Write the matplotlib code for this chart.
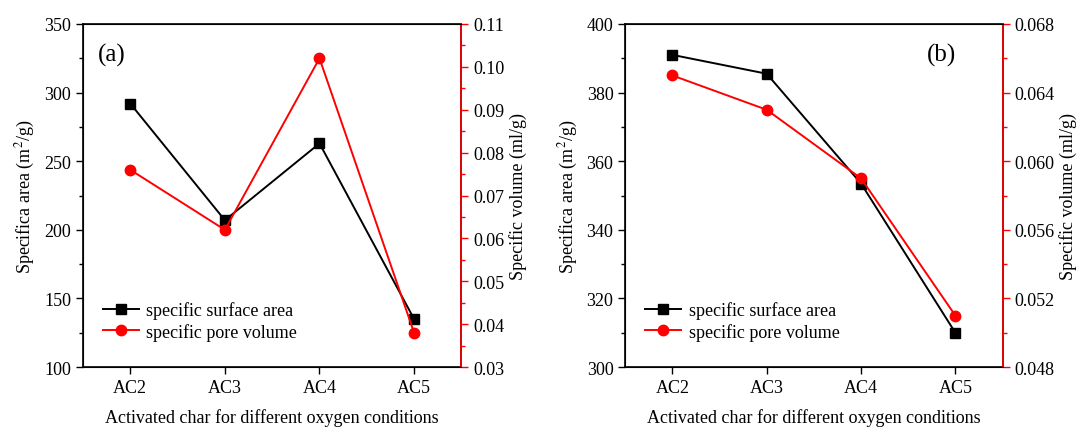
import matplotlib.pyplot as plt
from matplotlib.ticker import MultipleLocator, FormatStrFormatter

plt.rcParams['font.family'] = ['Liberation Serif', 'DejaVu Serif']
plt.rcParams['mathtext.fontset'] = 'stix'

samples = ['AC2', 'AC3', 'AC4', 'AC5']

# panel (a)
area_a = [292, 207, 263, 135]
volume_a = [0.076, 0.062, 0.102, 0.038]

# panel (b)
area_b = [391, 385.5, 353.5, 310]
volume_b = [0.065, 0.063, 0.059, 0.051]

fig = plt.figure(figsize=(10.78, 4.31), dpi=100)
fs = 13


def panel(rect, area, volume, ylim1, step1, ylim2, step2, fmt2, tag, tag_x):
    ax = fig.add_axes(rect)
    x = range(len(samples))
    l1, = ax.plot(x, area, color='black', marker='s', ms=7.5, lw=1.4,
                  label='specific surface area')
    ax.set_xlim(-0.5, 3.5)
    ax.set_ylim(*ylim1)
    ax.set_xticks(list(x))
    ax.set_xticklabels(samples)
    ax.yaxis.set_major_locator(MultipleLocator(step1))
    ax.yaxis.set_minor_locator(MultipleLocator(step1 / 2))
    ax.tick_params(direction='out', length=5, width=1, labelsize=fs)
    ax.tick_params(which='minor', direction='out', length=3, width=1)
    ax.tick_params(axis='x', which='minor', bottom=False)
    ax.set_xlabel('Activated char for different oxygen conditions', fontsize=fs, labelpad=9)
    ax.set_ylabel('Specifica area (m$^2$/g)', fontsize=fs, labelpad=5)
    for s in ax.spines.values():
        s.set_linewidth(1.2)

    ax2 = ax.twinx()
    l2, = ax2.plot(x, volume, color='red', marker='o', ms=7.5, lw=1.4,
                   label='specific pore volume')
    ax2.set_ylim(*ylim2)
    ax2.yaxis.set_major_locator(MultipleLocator(step2))
    ax2.yaxis.set_minor_locator(MultipleLocator(step2 / 2))
    ax2.yaxis.set_major_formatter(FormatStrFormatter(fmt2))
    ax2.tick_params(direction='out', length=5, width=1, labelsize=fs, color='red')
    ax2.tick_params(which='minor', direction='out', length=3, width=1, color='red')
    ax2.spines['right'].set_color('red')
    ax2.spines['right'].set_linewidth(1.2)
    ax2.set_ylabel('Specific volume (ml/g)', fontsize=fs, labelpad=3)

    ax.legend([l1, l2], [l1.get_label(), l2.get_label()], loc='lower left',
              bbox_to_anchor=(0.01, 0.03), frameon=False, fontsize=fs,
              handlelength=2.0, handletextpad=0.4, labelspacing=0.2)
    ax.text(tag_x, 0.91, tag, transform=ax.transAxes, fontsize=18,
            ha='left', va='center')
    return ax, ax2


panel([0.077, 0.146, 0.351, 0.796], area_a, volume_a, (100, 350), 50,
      (0.03, 0.11), 0.01, '%.2f', '(a)', 0.04)
panel([0.580, 0.146, 0.350, 0.796], area_b, volume_b, (300, 400), 20,
      (0.048, 0.068), 0.004, '%.3f', '(b)', 0.8)

fig.savefig('out.png', dpi=100)
